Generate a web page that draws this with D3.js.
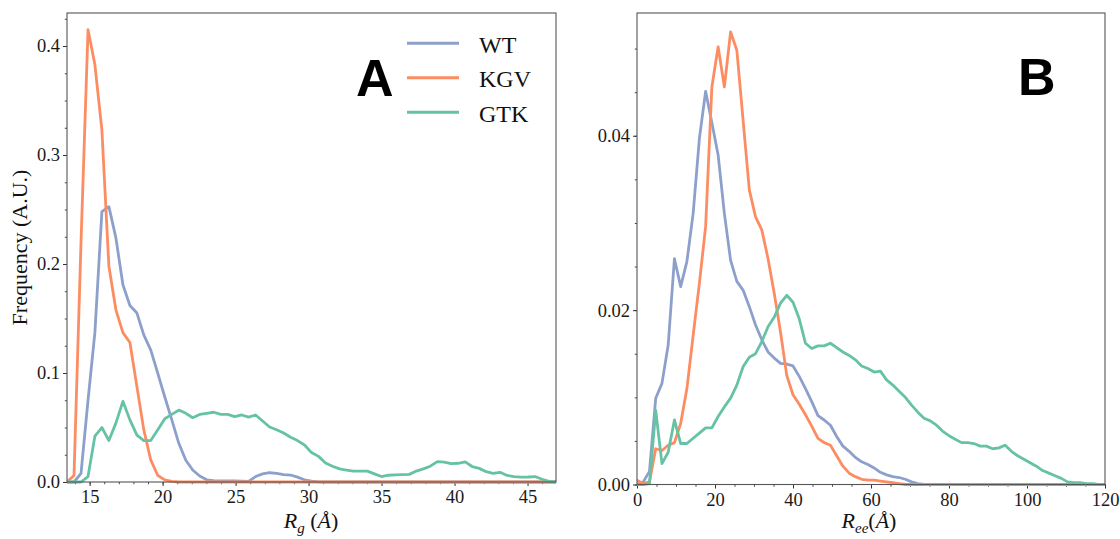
<!DOCTYPE html>
<html>
<head>
<meta charset="utf-8">
<script src="https://cdn.jsdelivr.net/npm/d3@7"></script>
<style>
  html, body { margin: 0; padding: 0; background: #fff; }
  svg { display: block; }
</style>
</head>
<body>
<svg id="chart" width="1120" height="539"></svg>
<script>
// ---------- DATA ----------
const seriesNames = ["WT", "KGV", "GTK"];
const seriesColors = ["#8da0cb", "#fc8d62", "#66c2a5"];

// Panel A: radius of gyration (Å)
const rgBins = [13.45,13.93,14.41,14.89,15.36,15.84,16.32,16.80,17.28,17.76,18.24,18.71,19.19,19.67,20.15,20.63,21.11,21.59,22.06,22.54,23.02,23.50,23.98,24.46,24.94,25.42,25.89,26.37,26.85,27.33,27.81,28.29,28.77,29.24,29.72,30.20,30.68,31.16,31.64,32.12,32.59,33.07,33.55,34.03,34.51,34.99,35.47,35.94,36.42,36.90,37.38,37.86,38.34,38.82,39.29,39.77,40.25,40.73,41.21,41.69,42.17,42.64,43.12,43.60,44.08,44.56,45.04,45.52,45.99,46.47,46.95];
const rgWT  = [0,0,0.008,0.075,0.137,0.248,0.2526,0.224,0.181,0.162,0.155,0.135,0.121,0.0997,0.078,0.057,0.0355,0.020,0.011,0.0055,0.002,0.0012,0.001,0.001,0.001,0.0008,0.0005,0.005,0.0075,0.0085,0.008,0.0068,0.0064,0.0045,0.002,0.0008,0.0002,0,0,0,0,0,0,0,0,0,0,0,0,0,0,0,0,0,0,0,0,0,0,0,0,0,0,0,0,0,0,0,0,0,0];
const rgKGV = [0,0.006,0.22,0.415,0.383,0.323,0.198,0.158,0.137,0.128,0.0875,0.048,0.020,0.006,0.002,0.0005,0,0,0,0,0,0,0,0,0,0,0,0,0,0,0,0,0,0,0,0,0,0,0,0,0,0,0,0,0,0,0,0,0,0,0,0,0,0,0,0,0,0,0,0,0,0,0,0,0,0,0,0,0,0,0];
const rgGTK = [0,0,0,0.005,0.042,0.050,0.038,0.054,0.074,0.057,0.043,0.038,0.038,0.048,0.058,0.062,0.066,0.063,0.059,0.062,0.063,0.064,0.062,0.062,0.060,0.0615,0.0595,0.0615,0.056,0.0505,0.048,0.045,0.041,0.038,0.034,0.027,0.0235,0.0175,0.0145,0.012,0.011,0.010,0.010,0.010,0.0075,0.005,0.0062,0.0066,0.0068,0.007,0.010,0.012,0.0145,0.0187,0.0183,0.0168,0.0172,0.0185,0.0142,0.0125,0.0095,0.008,0.0089,0.006,0.005,0.0045,0.0046,0.005,0.0025,0.0005,0];

// Panel B: end-to-end distance (Å)
const reeBins = [0,1.6,3.2,4.8,6.4,8.0,9.6,11.2,12.8,14.4,16.0,17.6,19.2,20.8,22.4,24.0,25.6,27.2,28.8,30.4,32.0,33.6,35.2,36.8,38.4,40.0,41.6,43.2,44.8,46.4,48.0,49.6,51.2,52.8,54.4,56.0,57.6,59.2,60.8,62.4,64.0,65.6,67.2,68.8,70.4,72.0,73.6,75.2,76.8,78.4,80.0,81.6,83.2,84.8,86.4,88.0,89.6,91.2,92.8,94.4,96.0,97.6,99.2,100.8,102.4,104.0,105.6,107.2,108.8,110.4,112.0,113.6,115.2,116.8,118.4,120.0];
const reeWT  = [0,0.0003,0.0015,0.0099,0.0116,0.016,0.0259,0.0227,0.0256,0.0311,0.0397,0.0451,0.0415,0.0378,0.0311,0.0257,0.0233,0.0223,0.0204,0.0183,0.0166,0.0152,0.0145,0.0139,0.0138,0.0136,0.0124,0.011,0.0095,0.0079,0.0074,0.0068,0.0055,0.0044,0.0038,0.0031,0.0026,0.0023,0.0019,0.0014,0.0011,0.0009,0.0008,0.0006,0.0003,0.0001,0,0,0,0,0,0,0,0,0,0,0,0,0,0,0,0,0,0,0,0,0,0,0,0,0,0,0,0,0,0];
const reeKGV = [0.0005,0.0001,0.0003,0.0041,0.0039,0.0045,0.0048,0.007,0.011,0.0171,0.0231,0.0296,0.0456,0.0502,0.0456,0.0519,0.0498,0.0418,0.0338,0.0307,0.0292,0.0259,0.0219,0.0175,0.0125,0.0103,0.0092,0.008,0.0067,0.0053,0.0048,0.0045,0.0033,0.0021,0.0013,0.0009,0.0006,0.0005,0.0005,0.0004,0.0003,0.0002,0.0001,0,0,0,0,0,0,0,0,0,0,0,0,0,0,0,0,0,0,0,0,0,0,0,0,0,0,0,0,0,0,0,0,0];
const reeGTK = [0,0,0.0001,0.0085,0.0024,0.0037,0.0074,0.0047,0.0047,0.0053,0.0059,0.0065,0.0065,0.0078,0.0089,0.0099,0.0114,0.0135,0.0146,0.015,0.0164,0.0181,0.0192,0.0208,0.0217,0.0209,0.019,0.0162,0.0156,0.0159,0.0159,0.0162,0.0157,0.0152,0.0148,0.0143,0.0136,0.0133,0.0129,0.013,0.012,0.0114,0.0107,0.01,0.0091,0.0083,0.0076,0.0073,0.0068,0.0061,0.0056,0.0052,0.0048,0.0048,0.0047,0.0044,0.0044,0.0041,0.0042,0.0045,0.0038,0.0033,0.0029,0.0025,0.0021,0.0016,0.0013,0.001,0.0007,0.0003,0.0002,0.0002,0.0001,0.0001,0,0];

// Tick labels
const rgTicks = [15, 20, 25, 30, 35, 40, 45];
const reeTicks = [0, 20, 40, 60, 80, 100, 120];
const freqTicksA = [0, 0.1, 0.2, 0.3, 0.4];
const freqTicksB = [0, 0.02, 0.04];

// ---------- DRAW ----------
const svg = d3.select("#chart");
const serif = "'Liberation Serif', 'Times New Roman', serif";

function drawPanel(p) {
  const x = d3.scaleLinear().domain(p.xDomain).range([p.left, p.right]);
  const y = d3.scaleLinear().domain(p.yDomain).range([p.bottom, p.top]);
  const g = svg.append("g");

  const clipId = "clip" + p.id;
  svg.append("clipPath").attr("id", clipId).append("rect")
    .attr("x", p.left).attr("y", p.top - 2)
    .attr("width", p.right - p.left).attr("height", p.bottom - p.top + 4);

  // minor ticks
  g.append("g").attr("transform", `translate(0,${p.bottom})`)
    .call(d3.axisBottom(x).tickValues(p.xMinor).tickSize(2.2).tickFormat(""))
    .call(s => s.select(".domain").remove())
    .call(s => s.selectAll("line").attr("stroke", "#444"));
  g.append("g").attr("transform", `translate(${p.left},0)`)
    .call(d3.axisLeft(y).tickValues(p.yMinor).tickSize(2.2).tickFormat(""))
    .call(s => s.select(".domain").remove())
    .call(s => s.selectAll("line").attr("stroke", "#444"));

  // major ticks
  g.append("g").attr("transform", `translate(0,${p.bottom})`)
    .call(d3.axisBottom(x).tickValues(p.xTicks).tickSize(4).tickPadding(4).tickFormat(d3.format("d")))
    .call(s => s.select(".domain").remove())
    .call(s => s.selectAll("line").attr("stroke", "#333"))
    .call(s => s.selectAll("text").attr("font-family", serif).attr("font-size", 18.5).attr("fill", "#1a1a1a"));
  g.append("g").attr("transform", `translate(${p.left},0)`)
    .call(d3.axisLeft(y).tickValues(p.yTicks).tickSize(4).tickPadding(3).tickFormat(d3.format(p.yFmt)))
    .call(s => s.select(".domain").remove())
    .call(s => s.selectAll("line").attr("stroke", "#333"))
    .call(s => s.selectAll("text").attr("font-family", serif).attr("font-size", 18.5).attr("fill", "#1a1a1a"));

  // lines
  const line = d3.line().x(d => x(d[0])).y(d => y(d[1]));
  p.series.forEach((vals, i) => {
    const pts = p.bins.map((b, j) => [b, vals[j]]);
    g.append("path").datum(pts)
      .attr("clip-path", `url(#${clipId})`)
      .attr("fill", "none")
      .attr("stroke", seriesColors[i])
      .attr("stroke-width", 2.8)
      .attr("stroke-linejoin", "round")
      .attr("stroke-linecap", "round")
      .attr("d", line);
  });

  // frame
  g.append("rect")
    .attr("x", p.left).attr("y", p.top)
    .attr("width", p.right - p.left).attr("height", p.bottom - p.top)
    .attr("fill", "none").attr("stroke", "#555").attr("stroke-width", 1.1);

  // panel letter
  g.append("text").attr("x", p.letterX).attr("y", p.letterY)
    .attr("font-family", "'Liberation Sans', Arial, sans-serif")
    .attr("font-weight", "bold").attr("font-size", 52).attr("fill", "#000")
    .text(p.letter);

  return { x, y, g };
}

const A = drawPanel({
  id: "A", left: 67, right: 556, top: 13, bottom: 482,
  xDomain: [13.45, 46.95], yDomain: [0, 0.4303],
  xTicks: rgTicks, xMinor: d3.range(14, 47, 1),
  yTicks: freqTicksA, yMinor: d3.range(0, 0.43, 0.025), yFmt: ".1f",
  bins: rgBins, series: [rgWT, rgKGV, rgGTK],
  letter: "A", letterX: 356, letterY: 96
});

const B = drawPanel({
  id: "B", left: 637, right: 1105, top: 13, bottom: 484.5,
  xDomain: [0, 120], yDomain: [0, 0.05408],
  xTicks: reeTicks, xMinor: d3.range(0, 121, 5),
  yTicks: freqTicksB, yMinor: d3.range(0, 0.0541, 0.005), yFmt: ".2f",
  bins: reeBins, series: [reeWT, reeKGV, reeGTK],
  letter: "B", letterX: 1018, letterY: 95
});

// legend (panel A)
const leg = svg.append("g");
seriesNames.forEach((name, i) => {
  const ly = 43.3 + i * 34.5;
  leg.append("line").attr("x1", 407).attr("x2", 459).attr("y1", ly).attr("y2", ly)
    .attr("stroke", seriesColors[i]).attr("stroke-width", 3);
  leg.append("text").attr("x", 479).attr("y", ly + 9.3)
    .attr("font-family", serif).attr("font-size", 24).attr("fill", "#111")
    .text(name);
});

// axis labels
svg.append("text")
  .attr("transform", "translate(27,247.5) rotate(-90)")
  .attr("text-anchor", "middle")
  .attr("font-family", serif).attr("font-size", 22).attr("fill", "#111")
  .text("Frequency (A.U.)");

const xlA = svg.append("text").attr("x", 311).attr("y", 528)
  .attr("text-anchor", "middle").attr("font-family", serif).attr("font-size", 22).attr("fill", "#111");
xlA.append("tspan").attr("font-style", "italic").text("R");
xlA.append("tspan").attr("font-style", "italic").attr("font-size", 15).attr("dy", 5).text("g");
xlA.append("tspan").attr("dy", -5).text(" (");
xlA.append("tspan").attr("font-style", "italic").text("Å");
xlA.append("tspan").text(")");

const xlB = svg.append("text").attr("x", 869).attr("y", 528)
  .attr("text-anchor", "middle").attr("font-family", serif).attr("font-size", 22).attr("fill", "#111");
xlB.append("tspan").attr("font-style", "italic").text("R");
xlB.append("tspan").attr("font-style", "italic").attr("font-size", 15).attr("dy", 5).text("ee");
xlB.append("tspan").attr("dy", -5).text("(");
xlB.append("tspan").attr("font-style", "italic").text("Å");
xlB.append("tspan").text(")");
</script>
</body>
</html>
